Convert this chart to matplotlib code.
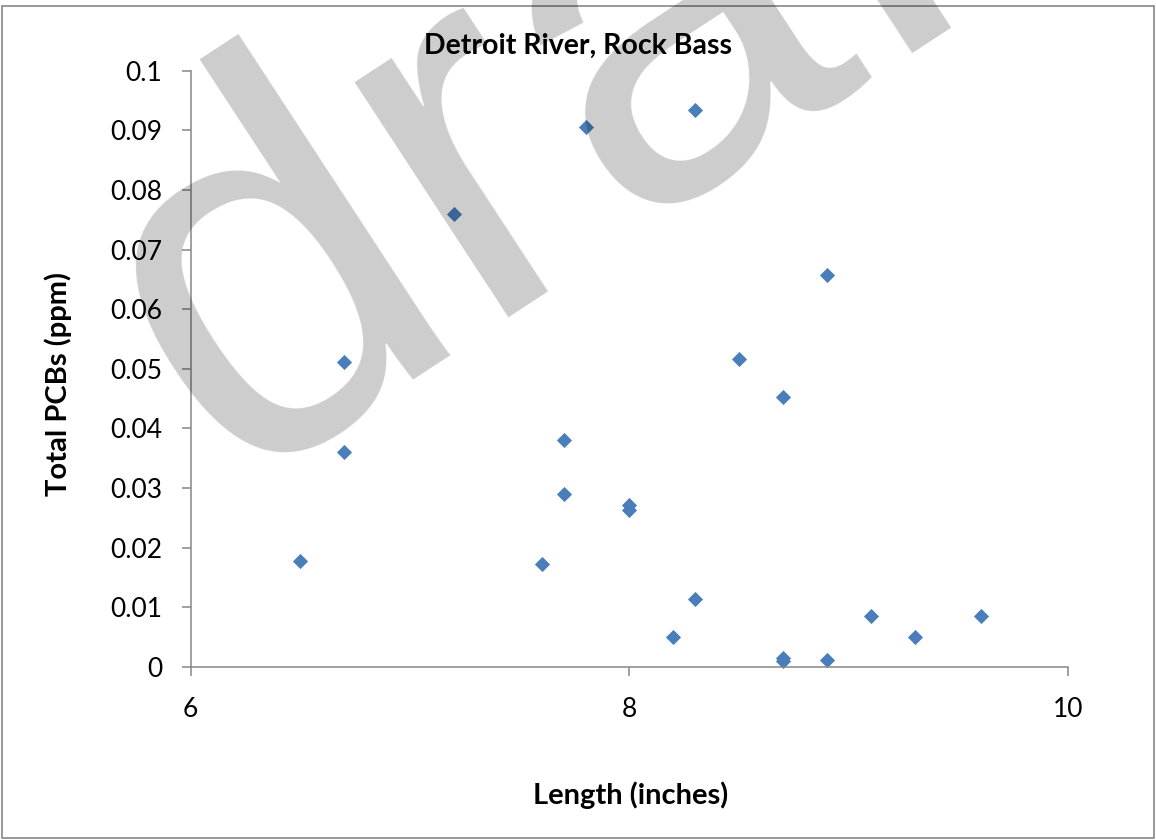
import matplotlib
matplotlib.use("Agg")
import matplotlib.pyplot as plt
from matplotlib.patches import Rectangle

# ---- data ----
length_in = [6.5, 6.7, 6.7, 7.2, 7.6, 7.7, 7.7, 7.8, 8.0, 8.0, 8.2, 8.3, 8.3,
             8.5, 8.7, 8.7, 8.7, 8.9, 8.9, 9.1, 9.3, 9.6]
pcb_ppm = [0.0177, 0.0511, 0.0361, 0.0759, 0.0172, 0.0381, 0.0289, 0.0905,
           0.0271, 0.0263, 0.0049, 0.0934, 0.0114, 0.0517, 0.0452, 0.0014,
           0.0010, 0.0657, 0.0011, 0.0085, 0.0050, 0.0085]
x_ticks = [6, 8, 10]
y_ticks = [0, 0.01, 0.02, 0.03, 0.04, 0.05, 0.06, 0.07, 0.08, 0.09, 0.1]
y_tick_labels = ["0", "0.01", "0.02", "0.03", "0.04", "0.05", "0.06",
                 "0.07", "0.08", "0.09", "0.1"]
title = "Detroit River, Rock Bass"
x_label = "Length (inches)"
y_label = "Total PCBs (ppm)"
watermark = "draft"

W, H = 1156, 840
fig = plt.figure(figsize=(W / 100, H / 100), dpi=100)
fig.patch.set_facecolor("white")

FONT = "Lato"
AX_GRAY = "#868686"

# axes placement in pixels
x0, x1 = 190.5, 1068.3
ytop, ybot = 70.7, 666.7
ax = fig.add_axes([x0 / W, 1 - ybot / H, (x1 - x0) / W, (ybot - ytop) / H])
ax.plot(length_in, pcb_ppm, linestyle="none", marker="D", ms=7.6,
        color="#4A7EBB", mec="#4A7EBB", mew=0.6, clip_on=False)
ax.set_xlim(6, 10)
ax.set_ylim(0, 0.1)
ax.set_xticks(x_ticks)
ax.set_xticklabels([str(t) for t in x_ticks])
ax.set_yticks(y_ticks)
ax.set_yticklabels(y_tick_labels)
for s in ["top", "right"]:
    ax.spines[s].set_visible(False)
for s in ["left", "bottom"]:
    ax.spines[s].set_color(AX_GRAY)
    ax.spines[s].set_linewidth(1.1)
ax.tick_params(axis="both", direction="out", length=6.5, width=1.1,
               color=AX_GRAY, labelsize=19, labelcolor="black")
ax.tick_params(axis="y", pad=14)
ax.tick_params(axis="x", pad=15)
for lab in ax.get_xticklabels() + ax.get_yticklabels():
    lab.set_fontfamily(FONT)
ax.set_facecolor("none")

# titles / labels
fig.text(578 / W, 1 - 46 / H, title, ha="center", va="center",
         fontsize=20.5, fontweight="bold", family=FONT)
fig.text(630.5 / W, 1 - 795 / H, x_label, ha="center", va="center",
         fontsize=21, fontweight="bold", family=FONT)
fig.text(58 / W, 1 - 384 / H, y_label, ha="center", va="center",
         rotation=90, fontsize=21, fontweight="bold", family=FONT)

# border
fig.patches.append(Rectangle((2 / W, 2 / H), (W - 4) / W, (H - 8) / H,
                             transform=fig.transFigure, fill=False,
                             edgecolor=AX_GRAY, linewidth=1.2))

# watermark
fig.text(229 / W, 1 - 486 / H, watermark, ha="left", va="baseline",
         rotation=33.2, rotation_mode="anchor", fontsize=382,
         family="Liberation Sans", color="black", alpha=0.2, zorder=10)

fig.savefig("out.png", dpi=100)
